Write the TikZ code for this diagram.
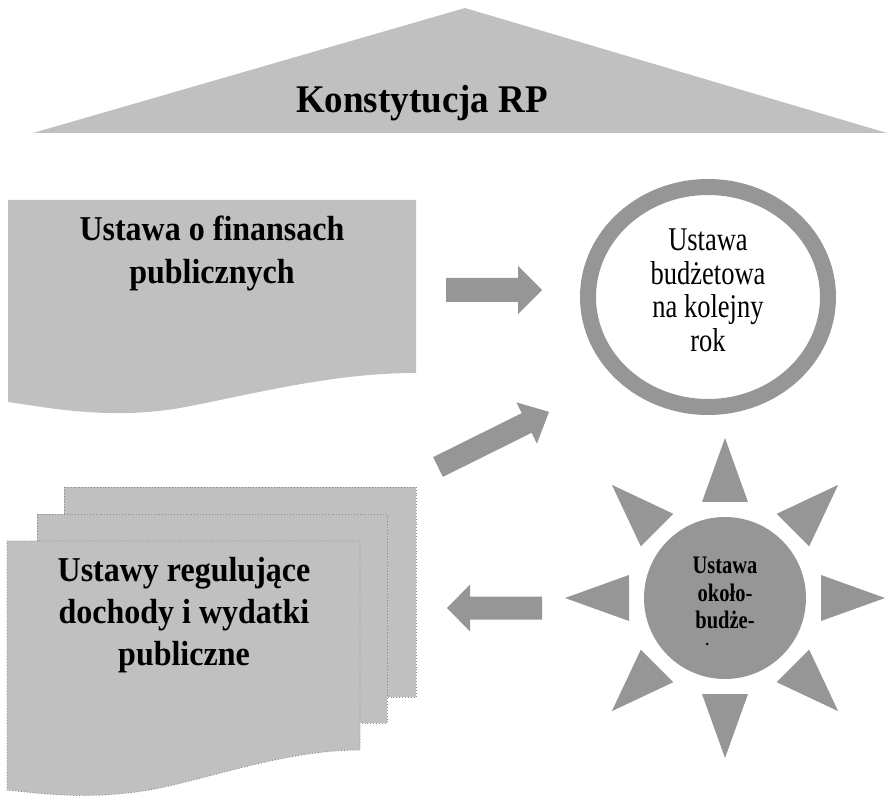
\documentclass[tikz,border=0pt]{standalone}
\usepackage{fontspec}
\usepackage{graphicx}
\setmainfont{Liberation Serif}
\usetikzlibrary{calc}
\definecolor{lightfill}{HTML}{C0C0C0}
\definecolor{midfill}{HTML}{969696}
\definecolor{dotline}{HTML}{8A8A8A}
\tikzset{
  paper/.style={fill=lightfill, draw=dotline, dotted, line width=0.9pt},
  blockarrow/.style={fill=midfill, draw=none},
  label/.style={inner sep=0pt, anchor=base},
}
% #1 vertical stretch, #2 text lines
\newcommand{\stretchtext}[2]{\scalebox{1}[#1]{\begin{tabular}[t]{@{}c@{}}#2\end{tabular}}}
\newcommand{\blockarr}[4]{% L, H(head length), h(shaft half), w(head half)
  (0,-#3) -- ({#1-#2},-#3) -- ({#1-#2},-#4) -- (#1,0) -- ({#1-#2},#4) -- ({#1-#2},#3) -- (0,#3) -- cycle}
\begin{document}
\begin{tikzpicture}[x=1pt,y=-1pt]
\useasboundingbox (0,0) rectangle (887,799);

% roof
\fill[lightfill] (465,8) -- (887,133) -- (33,133) -- cycle;
\node[label, font=\bfseries\fontsize{37}{40}\selectfont] (title) at (422,113) {\stretchtext{1.06}{Konstytucja RP}};

% document 1
\fill[lightfill] (8,200) -- (416,200) -- (416,373)
  .. controls (330,373) and (250,395) .. (180,408)
  .. controls (110,420) and (50,408) .. (8,402) -- cycle;
\node[label, font=\bfseries\fontsize{32}{38.6}\selectfont] (doc1) at (212,241) {\stretchtext{1.09}{Ustawa o finansach\\publicznych}};

% multidocument
\path[paper] (64,487) rectangle (416,697);
\path[paper] (37,514) rectangle (387,723);
\path[paper] (7,541) -- (360,541) -- (360,750)
  .. controls (290,750) and (220,775) .. (160,788)
  .. controls (100,800) and (50,795) .. (7,790) -- cycle;
\node[label, font=\bfseries\fontsize{32}{38.9}\selectfont] (doc2) at (184,581) {\stretchtext{1.09}{Ustawy regulujące\\dochody i wydatki\\publiczne}};

% ring
\draw[midfill, line width=16pt] (708,297) ellipse [x radius=120, y radius=110];
\node[label, font=\fontsize{26.5}{26.8}\selectfont] (budget) at (708,251) {\stretchtext{1.25}{Ustawa\\budżetowa\\na kolejny\\rok}};

% sun
\coordinate (sunc) at (725,598);
\foreach \a in {0,45,...,315}{
  \fill[midfill] ($(sunc)+(\a:160)$) -- ($(sunc)+(\a:96)+(\a+90:23)$) -- ($(sunc)+(\a:96)+(\a-90:23)$) -- cycle;
}
\fill[midfill] (sunc) circle[radius=81];
\node[label, font=\bfseries\fontsize{20.5}{22}\selectfont] (sunt) at (725,574) {\stretchtext{1.23}{Ustawa\\około-\\budże-}};
\begin{scope}
  \clip (650,630) rectangle (800,644.5);
  \node[label, font=\bfseries\fontsize{20.5}{22}\selectfont] (sunt4) at (725,657.5) {\stretchtext{1.23}{towa}};
\end{scope}

% block arrows
\begin{scope}[shift={(446,290)}]
  \fill[blockarrow] \blockarr{96}{24}{12}{24};
\end{scope}
\begin{scope}[shift={(438,467)}, rotate=26.4]
  \fill[blockarrow] \blockarr{124}{25}{11}{23};
\end{scope}
\begin{scope}[shift={(542,608)}, rotate=180]
  \fill[blockarrow] \blockarr{95}{23}{11.5}{23.5};
\end{scope}
\end{tikzpicture}
\end{document}
